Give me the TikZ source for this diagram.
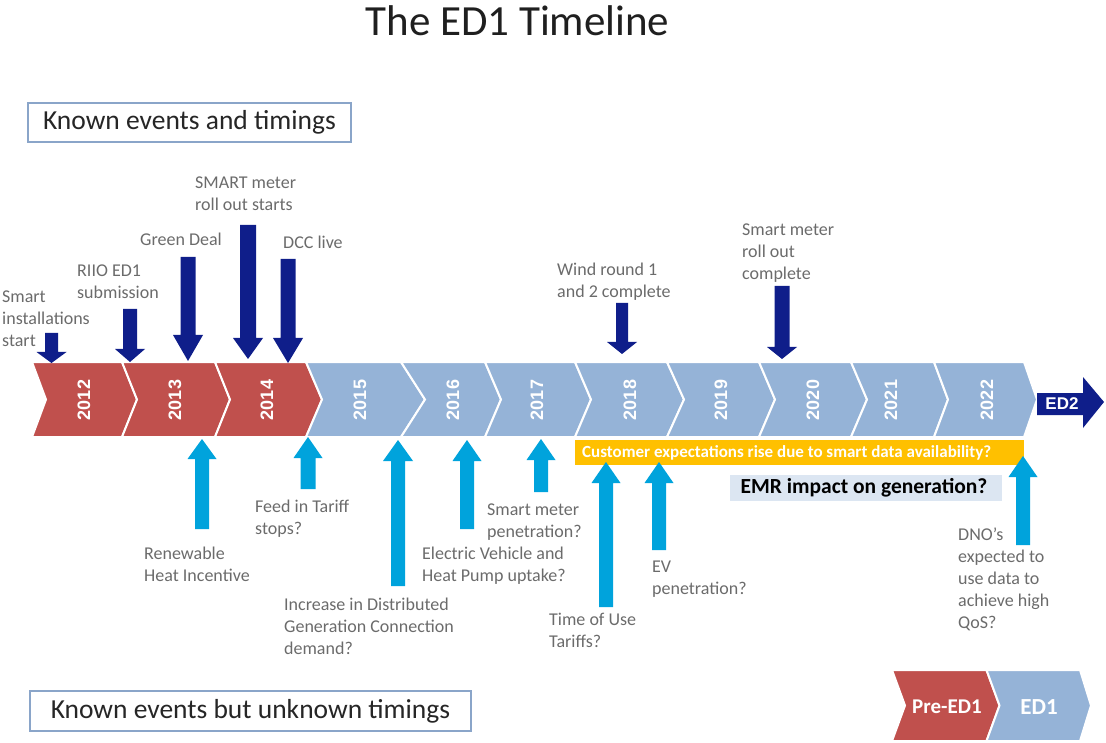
\documentclass[tikz,border=0pt]{standalone}
\usepackage{fontspec}
\setmainfont{Carlito}
\newfontfamily\arialfont{Liberation Sans}

\definecolor{chevred}{HTML}{C0504D}
\definecolor{chevblue}{HTML}{95B3D7}
\definecolor{navyarr}{HTML}{0F1E8A}
\definecolor{cyanarr}{HTML}{00A3DC}
\definecolor{barorange}{HTML}{FFC000}
\definecolor{emrfill}{HTML}{DCE6F2}
\definecolor{labelgray}{HTML}{6B6B6B}
\definecolor{legendline}{HTML}{8AA5C9}

% chevron: left x, right x, notch depth, tip depth, colour
\newcommand\chevron[5]{%
  \filldraw[fill=#5, draw=white, line width=2pt, line join=miter]
    (#1,362) -- (#2,362) -- ({#2+#4},399.5) -- (#2,437) -- (#1,437) -- ({#1+#3},399.5) -- cycle;}

% downward block arrow: x, top, head start, tip, shaft half width, head half width
\newcommand\navyarrow[6]{%
  \fill[navyarr] ({#1-#5},#2) -- ({#1+#5},#2) -- ({#1+#5},#3) -- ({#1+#6},#3) -- (#1,#4)
    -- ({#1-#6},#3) -- ({#1-#5},#3) -- cycle;}

% upward block arrow: x, tip, head end, bottom, shaft half width, head half width
\newcommand\cyanarrow[6]{%
  \fill[cyanarr] (#1,#2) -- ({#1+#6},#3) -- ({#1+#5},#3) -- ({#1+#5},#4) -- ({#1-#5},#4)
    -- ({#1-#5},#3) -- ({#1-#6},#3) -- cycle;}

\begin{document}
\begin{tikzpicture}[x=1pt, y=-1pt,
  year/.style={font=\arialfont\bfseries\fontsize{18}{18}\selectfont, text=white, rotate=90, inner sep=0},
  % labels are placed by the baseline of their last line
  lbl/.style={font=\fontsize{18}{22}\selectfont, text=labelgray, align=left, inner sep=0, anchor=base west},
  legendbox/.style={draw=legendline, line width=1.2pt, fill=white, inner sep=0,
    font=\fontsize{27.5}{30}\selectfont, text=black!85}]
\useasboundingbox (0,0) rectangle (1106,743);

% title
\node[font=\fontsize{43}{46}\selectfont, text=black!88, anchor=base, inner sep=0] (title) at (517.5,36) {The ED1 Timeline};

% legend boxes
\node[legendbox, minimum width=323, minimum height=39] (known) at (189.5,122.5) {Known events and timings};
\node[legendbox, minimum width=441, minimum height=40] (unknown) at (250.5,711) {Known events but unknown timings};

% timeline chevrons
\chevron{32}{122}{14}{15}{chevred}
\chevron{122}{215}{15}{15}{chevred}
\chevron{215}{306}{15}{16}{chevred}
\chevron{306}{401}{16}{24}{chevblue}
\chevron{401}{485}{24}{16}{chevblue}
\chevron{485}{575}{16}{16}{chevblue}
\chevron{575}{667}{16}{17}{chevblue}
\chevron{667}{759}{17}{16}{chevblue}
\chevron{759}{851}{16}{16}{chevblue}
\chevron{851}{934}{16}{14}{chevblue}
\chevron{934}{1024}{14}{13}{chevblue}

\node[year] (y2012) at (84,400) {2012};
\node[year] (y2013) at (175,400) {2013};
\node[year] (y2014) at (267,400) {2014};
\node[year] (y2015) at (360,400) {2015};
\node[year] (y2016) at (453,400) {2016};
\node[year] (y2017) at (537,400) {2017};
\node[year] (y2018) at (630,400) {2018};
\node[year] (y2019) at (721,400) {2019};
\node[year] (y2020) at (813,400) {2020};
\node[year] (y2021) at (891,400) {2021};
\node[year] (y2022) at (987,400) {2022};

% ED2 arrow
\fill[navyarr] (1037,393) -- (1083,393) -- (1083,377) -- (1104,402) -- (1083,428) -- (1083,415) -- (1037,415) -- cycle;
\node[font=\arialfont\bfseries\fontsize{17}{17}\selectfont, text=white, inner sep=0] (ed2) at (1062,404) {ED2};

% known events above the timeline
\navyarrow{51.5}{333}{352}{363}{6.5}{15}
\navyarrow{130}{309}{349}{362}{7}{15}
\navyarrow{188}{257}{335}{361}{7.5}{15}
\navyarrow{248}{225}{338}{359}{8}{15}
\navyarrow{288}{259}{338}{363}{7.5}{15}
\navyarrow{622}{303}{342}{354}{6}{15}
\navyarrow{782}{286}{347}{359}{7.5}{15}

\node[lbl] (smartinst) at (2,347) {Smart\\installations\\start};
\node[lbl] (riio) at (77,299) {RIIO ED1\\submission};
\node[lbl] (green) at (140,246) {Green Deal};
\node[lbl] (smartstart) at (195,211) {SMART meter\\roll out starts};
\node[lbl] (dcc) at (283,249) {DCC live};
\node[lbl] (wind) at (557,298) {Wind round 1\\and 2 complete};
\node[lbl] (smartdone) at (742,280) {Smart meter\\roll out\\complete};

% customer expectations bar and EMR box
\fill[barorange] (575,440) rectangle (1024,465);
\node[font=\bfseries\fontsize{17}{18}\selectfont, text=white, anchor=west, inner sep=0] (cust) at (582,452.5)
  {Customer expectations rise due to smart data availability?};
\fill[emrfill] (730,475) rectangle (1002,501);
\node[font=\bfseries\fontsize{21.5}{22}\selectfont, text=black, inner sep=0] (emr) at (864,488) {EMR impact on generation?};

% unknown timings below the timeline
\cyanarrow{202}{439}{459}{529}{7}{14.5}
\cyanarrow{308}{437}{458}{489}{7.5}{14.5}
\cyanarrow{398}{440}{461}{586}{7}{15}
\cyanarrow{467}{440}{461}{529}{7}{14.5}
\cyanarrow{541}{439}{460}{492}{7}{14.5}
\cyanarrow{606}{462}{483}{607}{7}{14.5}
\cyanarrow{659}{462}{483}{550}{7}{14.5}
\cyanarrow{1023}{456}{477}{545}{7}{14.5}

\node[lbl] (rhi) at (144,581) {Renewable\\Heat Incentive};
\node[lbl] (fit) at (255,534) {Feed in Tariff\\stops?};
\node[lbl] (dg) at (284,654) {Increase in Distributed\\Generation Connection\\demand?};
\node[lbl] (evhp) at (422,581) {Electric Vehicle and\\Heat Pump uptake?};
\node[lbl] (smpen) at (487,537) {Smart meter\\penetration?};
\node[lbl] (tou) at (549,647) {Time of Use\\Tariffs?};
\node[lbl] (evpen) at (652,594) {EV\\penetration?};
\node[lbl] (dno) at (958,628) {DNO’s\\expected to\\use data to\\achieve high\\QoS?};

% phase key
\filldraw[fill=chevred, draw=white, line width=2pt] (892,670) -- (986.5,670) -- (999.5,705.5) -- (986.5,741) -- (892,741) -- (905,705.5) -- cycle;
\filldraw[fill=chevblue, draw=white, line width=2pt] (986.5,670) -- (1080,670) -- (1091,705.5) -- (1080,741) -- (986.5,741) -- (999.5,705.5) -- cycle;
\node[font=\bfseries\fontsize{21}{22}\selectfont, text=white, inner sep=0] (pre) at (947,707) {Pre-ED1};
\node[font=\bfseries\fontsize{23}{24}\selectfont, text=white, inner sep=0] (ed1) at (1039,707) {ED1};
\end{tikzpicture}
\end{document}
